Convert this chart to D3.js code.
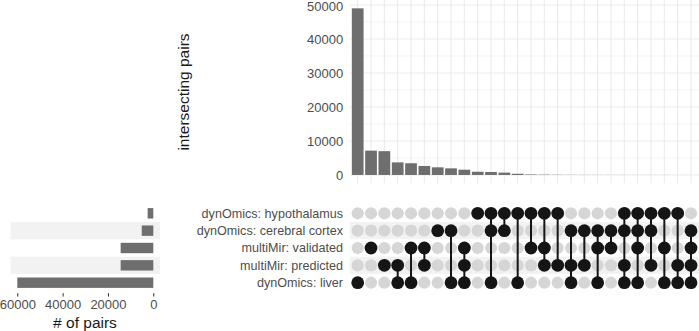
<!DOCTYPE html>
<html>
<head>
<meta charset="utf-8">
<script src="https://cdn.jsdelivr.net/npm/d3@7"></script>
<style>
  body { margin: 0; background: #fff; }
  svg { font-family: "Liberation Sans", Arial, sans-serif; }
</style>
</head>
<body>
<div id="chart"></div>
<script>
// Sets, top to bottom in the matrix
var sets = ["dynOmics: hypothalamus", "dynOmics: cerebral cortex", "multiMir: validated", "multiMir: predicted", "dynOmics: liver"]
var setSizes = [2500, 5100, 14400, 14400, 60000]

// Intersections: membership codes H C V P L, and their sizes
var combos = ["L", "V", "P", "PL", "VL", "VP", "C", "CL", "VPL", "H", "HCL", "HC", "HL",
  "HV", "HVP", "HP", "CPL", "CP", "CVL", "CV", "HCPL", "HCVL", "HCP", "HVL", "HPL", "CVPL"]
var comboSizes = [49000, 7150, 7000, 3700, 3450, 2650, 2250, 1950, 1550, 950, 880, 690, 350,
  150, 100, 60, 45, 35, 30, 25, 20, 15, 12, 10, 8, 5]
var setCodes = ["H", "C", "V", "P", "L"]

var topTicks = [0, 10000, 20000, 30000, 40000, 50000]
var minorTicks = [5000, 15000, 25000, 35000, 45000]
var sizeTicks = [0, 20000, 40000, 60000]

var W = 699, H = 331
var barColor = "#6e6e6e", gridColor = "#ebebeb", stripe = "#f2f2f2"

var svg = d3.select("#chart").append("svg")
  .attr("width", W)
  .attr("height", H)

// Scales
var xCol = d3.scalePoint()
  .domain(d3.range(combos.length))
  .range([349.7, 699])
  .padding(0.6)

var yRow = d3.scalePoint()
  .domain(sets)
  .range([202.9, 293.1])
  .padding(0.6)

var yBar = d3.scaleLinear()
  .domain([-2450, 51450])
  .range([183.3, 0])

var xSize = d3.scaleLinear()
  .domain([63000, -3000])
  .range([10.5, 160.1])

var step = xCol.step(), rowStep = yRow.step()

// ---- Top panel: intersection sizes ----
var topPanel = svg.append("g")

topPanel.selectAll(".vgrid").data(d3.range(combos.length)).enter().append("line")
  .attr("x1", d => xCol(d)).attr("x2", d => xCol(d))
  .attr("y1", 0).attr("y2", 183.3)
  .attr("stroke", gridColor).attr("stroke-width", 1.1)

topPanel.selectAll(".minor").data(minorTicks).enter().append("line")
  .attr("x1", 349.7).attr("x2", 699)
  .attr("y1", d => yBar(d)).attr("y2", d => yBar(d))
  .attr("stroke", gridColor).attr("stroke-width", 0.55)

topPanel.selectAll(".major").data(topTicks).enter().append("line")
  .attr("x1", 349.7).attr("x2", 699)
  .attr("y1", d => yBar(d)).attr("y2", d => yBar(d))
  .attr("stroke", gridColor).attr("stroke-width", 1.1)

topPanel.selectAll(".bar").data(comboSizes).enter().append("rect")
  .attr("x", (d, i) => xCol(i) - step * 0.44)
  .attr("width", step * 0.88)
  .attr("y", d => yBar(d))
  .attr("height", d => yBar(0) - yBar(d))
  .attr("fill", barColor)

var yAxis = topPanel.append("g")
  .attr("transform", "translate(349.7,0)")
  .call(d3.axisLeft(yBar).tickValues(topTicks).tickSize(0).tickPadding(6.5).tickFormat(d3.format("d")))
yAxis.select(".domain").remove()
yAxis.selectAll("text").attr("fill", "#4d4d4d").style("font-size", "13px")
yAxis.selectAll(".tick").filter(d => d == 50000).select("text").attr("dy", "0.42em")

svg.append("text")
  .attr("transform", "translate(189,92) rotate(-90)")
  .attr("text-anchor", "middle")
  .attr("fill", "#1a1a1a")
  .style("font-size", "15.5px")
  .text("intersecting pairs")

// ---- Matrix ----
var mat = svg.append("g")

mat.selectAll(".stripe").data(sets.filter((d, i) => i % 2 == 1)).enter().append("rect")
  .attr("x", 349.7).attr("width", 699 - 349.7)
  .attr("y", d => yRow(d) - rowStep / 2).attr("height", rowStep)
  .attr("fill", stripe)

mat.selectAll(".label").data(sets).enter().append("text")
  .attr("x", 343)
  .attr("y", d => yRow(d))
  .attr("dy", "0.35em")
  .attr("text-anchor", "end")
  .attr("fill", "#4d4d4d")
  .style("font-size", "12.6px")
  .text(d => d)

combos.forEach(function(c, i) {
  var rows = setCodes.map((s, j) => c.indexOf(s) >= 0 ? j : -1).filter(j => j >= 0)
  var g = mat.append("g")
  g.selectAll("circle").data(sets).enter().append("circle")
    .attr("cx", xCol(i))
    .attr("cy", d => yRow(d))
    .attr("r", (d, j) => rows.indexOf(j) >= 0 ? 6.4 : 6.1)
    .attr("fill", (d, j) => rows.indexOf(j) >= 0 ? "#151515" : "#d6d6d6")
  if (rows.length > 1) {
    g.append("line")
      .attr("x1", xCol(i)).attr("x2", xCol(i))
      .attr("y1", yRow(sets[d3.min(rows)])).attr("y2", yRow(sets[d3.max(rows)]))
      .attr("stroke", "#151515").attr("stroke-width", 2)
  }
})

// ---- Left panel: set sizes ----
var leftPanel = svg.append("g")

leftPanel.selectAll(".stripe").data(sets.filter((d, i) => i % 2 == 1)).enter().append("rect")
  .attr("x", 10.5).attr("width", 160.1 - 10.5)
  .attr("y", d => yRow(d) - rowStep / 2).attr("height", rowStep)
  .attr("fill", stripe)

leftPanel.selectAll(".sbar").data(setSizes).enter().append("rect")
  .attr("x", d => xSize(d))
  .attr("width", d => xSize(0) - xSize(d))
  .attr("y", (d, i) => yRow(sets[i]) - rowStep * 0.3)
  .attr("height", rowStep * 0.6)
  .attr("fill", barColor)

var xAxis = leftPanel.append("g")
  .attr("transform", "translate(0,293.1)")
  .call(d3.axisBottom(xSize).tickValues(sizeTicks).tickSize(3.5).tickPadding(3).tickFormat(d3.format("d")))
xAxis.select(".domain").remove()
xAxis.selectAll("line").attr("stroke", "#333")
xAxis.selectAll("text").attr("fill", "#4d4d4d").style("font-size", "13px")

svg.append("text")
  .attr("x", 85).attr("y", 328)
  .attr("text-anchor", "middle")
  .attr("fill", "#1a1a1a")
  .style("font-size", "15.5px")
  .text("# of pairs")
</script>
</body>
</html>
